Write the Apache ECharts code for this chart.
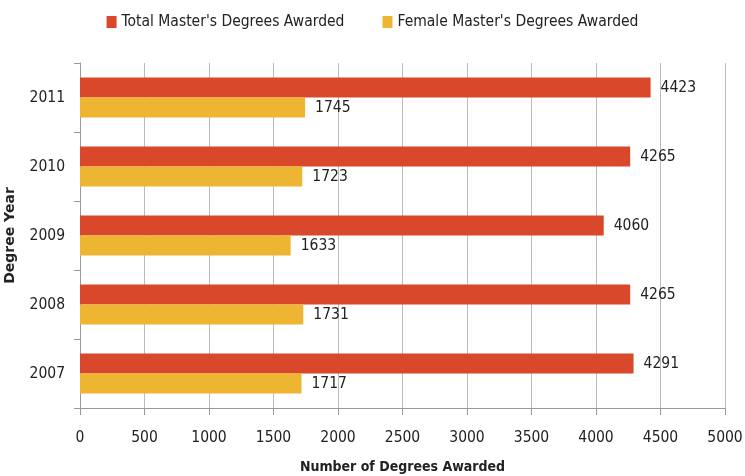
<!DOCTYPE html>
<html><head><meta charset="utf-8">
<script src="https://cdn.jsdelivr.net/npm/echarts@6/dist/echarts.min.js"></script>
<style>html,body{margin:0;padding:0;background:#fff}#c{width:745px;height:476px}</style>
</head><body><div id="c"></div>
<script>
const years = ['2007','2008','2009','2010','2011'];
const totalDegrees = [4291, 4265, 4060, 4265, 4423];
const femaleDegrees = [1717, 1731, 1633, 1723, 1745];
const xTicks = [0,500,1000,1500,2000,2500,3000,3500,4000,4500,5000];
const seriesNames = ["Total Master's Degrees Awarded", "Female Master's Degrees Awarded"];

const FONT = '"DejaVu Sans Condensed", "Liberation Sans", sans-serif';
const chart = echarts.init(document.getElementById('c'), null, {renderer:'canvas'});
chart.setOption({
  animation:false,
  textStyle:{fontFamily:FONT},
  legend:{
    top:9, left:'center', itemGap:38, itemWidth:10, itemHeight:12, icon:'rect',
    textStyle:{fontFamily:FONT, fontSize:15.5, color:'#222'},
    data:seriesNames
  },
  grid:{left:80, right:20, top:63, bottom:68, containLabel:false, outerBoundsMode:'none'},
  xAxis:{
    type:'value', min:xTicks[0], max:xTicks[xTicks.length-1], interval:500,
    name:'Number of Degrees Awarded', nameLocation:'middle', nameGap:52,
    nameTextStyle:{fontFamily:FONT, fontSize:14, fontWeight:'bold', color:'#222'},
    axisLine:{show:true, lineStyle:{color:'#999'}},
    axisTick:{show:true, length:7, lineStyle:{color:'#999'}},
    axisLabel:{fontFamily:FONT, fontSize:15.5, color:'#222', margin:22, formatter:v=>String(v)},
    splitLine:{show:true, lineStyle:{color:'#bbb'}}
  },
  yAxis:{
    type:'category', data:years,
    name:'Degree Year', nameLocation:'middle', nameGap:63, nameRotate:90, nameMoveOverlap:false,
    nameTextStyle:{fontFamily:'"DejaVu Sans", sans-serif', fontSize:14, fontWeight:'bold', color:'#222'},
    axisLine:{show:true, lineStyle:{color:'#999'}},
    axisTick:{show:true, length:6, lineStyle:{color:'#999'}},
    axisLabel:{fontFamily:FONT, fontSize:15.5, color:'#222', margin:15}
  },
  series:[
    {name:seriesNames[0], type:'bar', data:totalDegrees, barWidth:20, barGap:'0%',
     itemStyle:{color:'#D9482A'},
     label:{show:true, position:'right', distance:10, fontFamily:FONT, fontSize:15.5, color:'#222', formatter:p=>String(p.value)}},
    {name:seriesNames[1], type:'bar', data:femaleDegrees, barWidth:20, barGap:'0%',
     itemStyle:{color:'#EEB533'},
     label:{show:true, position:'right', distance:10, fontFamily:FONT, fontSize:15.5, color:'#222', formatter:p=>String(p.value)}}
  ]
});
</script></body></html>
